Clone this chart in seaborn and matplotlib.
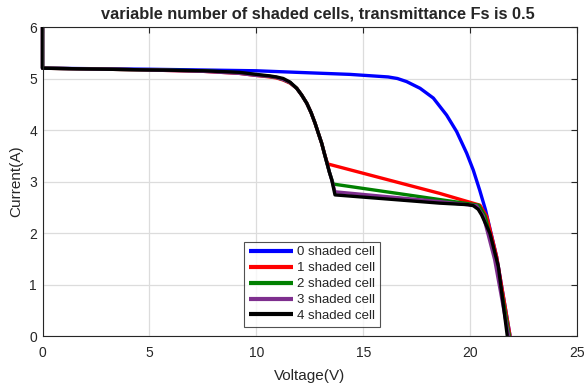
import numpy as np
import pandas as pd
import matplotlib
matplotlib.use("Agg")
import matplotlib.pyplot as plt
import seaborn as sns

# I-V characteristics of a PV module with 0..4 partially shaded cells (Fs = 0.5)
labels = ["0 shaded cell", "1 shaded cell", "2 shaded cell", "3 shaded cell", "4 shaded cell"]
colors = ["#0000ff", "#ff0000", "#008000", "#7e2f8e", "#000000"]

v0 = [0.0, 0.0, 5.0, 10.0, 14.38, 16.17, 16.6, 17.03, 17.66, 18.28, 18.9, 19.37, 19.84,
      20.15, 20.45, 20.72, 21.24, 21.87]
i0 = [6.0, 5.2, 5.18, 5.15, 5.08, 5.03, 5.0, 4.94, 4.81, 4.62, 4.29, 3.97, 3.55,
      3.22, 2.83, 2.45, 1.54, 0.0]

# shaded cases share the bypass-diode knee around 10-13.6 V
v1 = [0.0, 0.0, 4.5, 7.5, 9.2, 10.0, 10.64, 10.95, 11.26, 11.58, 11.89, 12.12, 12.36,
      12.56, 12.75, 12.9, 13.06, 13.18, 13.29, 13.35, 18.57, 20.46, 20.78, 21.24, 21.87]
i1 = [6.0, 5.2, 5.17, 5.14, 5.1, 5.06, 5.03, 5.01, 4.97, 4.91, 4.81, 4.68, 4.52,
      4.34, 4.13, 3.94, 3.74, 3.55, 3.4, 3.34, 2.77, 2.54, 2.32, 1.54, 0.0]

v2 = [0.0, 0.0, 4.5, 7.5, 9.2, 10.0, 10.64, 10.95, 11.26, 11.58, 11.89, 12.12, 12.36,
      12.56, 12.75, 12.9, 13.06, 13.18, 13.29, 13.42, 13.6, 18.57, 20.4, 20.7, 21.2, 21.84]
i2 = [6.0, 5.2, 5.17, 5.15, 5.11, 5.07, 5.04, 5.02, 4.98, 4.92, 4.81, 4.68, 4.52,
      4.34, 4.13, 3.94, 3.74, 3.55, 3.38, 3.18, 2.95, 2.65, 2.54, 2.33, 1.5, 0.0]

v3 = [0.0, 0.0, 4.5, 7.5, 9.2, 10.0, 10.64, 10.95, 11.26, 11.58, 11.89, 12.12, 12.36,
      12.56, 12.75, 12.9, 13.06, 13.18, 13.29, 13.42, 13.53, 13.68, 18.57, 20.3, 20.62,
      21.15, 21.8]
i3 = [6.0, 5.2, 5.17, 5.14, 5.1, 5.06, 5.04, 5.02, 4.98, 4.92, 4.81, 4.68, 4.52,
      4.34, 4.13, 3.94, 3.74, 3.55, 3.38, 3.18, 3.03, 2.8, 2.61, 2.53, 2.33,
      1.48, 0.0]

v4 = [0.0, 0.0, 4.5, 7.5, 9.2, 10.0, 10.64, 10.95, 11.26, 11.58, 11.89, 12.12, 12.36,
      12.56, 12.75, 12.9, 13.06, 13.18, 13.29, 13.42, 13.53, 13.68, 18.57, 19.9, 20.15,
      20.38, 20.54, 20.93, 21.32, 21.74]
i4 = [6.0, 5.2, 5.17, 5.15, 5.12, 5.08, 5.05, 5.03, 5.0, 4.93, 4.81, 4.68, 4.52,
      4.34, 4.13, 3.94, 3.74, 3.55, 3.38, 3.18, 3.03, 2.74, 2.58, 2.55, 2.53,
      2.46, 2.35, 1.99, 1.35, 0.0]

curves = [(v0, i0), (v1, i1), (v2, i2), (v3, i3), (v4, i4)]

frames = []
for lab, (v, i) in zip(labels, curves):
    frames.append(pd.DataFrame({"Voltage": v, "Current": i, "Case": lab}))
df = pd.concat(frames, ignore_index=True)

sns.set_style("white")
plt.rcParams["font.family"] = ["Liberation Sans", "DejaVu Sans"]

fig = plt.figure(figsize=(5.84, 3.83), dpi=100)
ax = fig.add_axes([0.0728, 0.1227, 0.9152, 0.8068])

sns.lineplot(data=df, x="Voltage", y="Current", hue="Case", hue_order=labels,
             palette=colors, sort=False, estimator=None, linewidth=2.4,
             solid_joinstyle="round", solid_capstyle="butt",
             clip_on=False, ax=ax)

ax.set_xlim(0, 25)
ax.set_ylim(0, 6)
ax.set_xticks([0, 5, 10, 15, 20, 25])
ax.set_yticks([0, 1, 2, 3, 4, 5, 6])
ax.grid(True, color="#dcdcdc", linewidth=0.9)
ax.set_axisbelow(True)
for s in ax.spines.values():
    s.set_color("#262626")
    s.set_linewidth(0.8)
    s.set_visible(True)
ax.tick_params(direction="in", length=4, width=0.8, top=True, right=True,
               labelsize=10, colors="#262626")
ax.tick_params(axis="x", pad=7.5)
ax.tick_params(axis="y", pad=4)

ax.set_xlabel("Voltage(V)", fontsize=11, color="#262626", labelpad=6)
ax.set_ylabel("Current(A)", fontsize=11, color="#262626", labelpad=4)
ax.set_title("variable number of shaded cells, transmittance Fs is 0.5",
             fontsize=11.8, fontweight="bold", pad=6, x=0.516)

leg = ax.legend(loc="lower left", bbox_to_anchor=(0.377, 0.03), borderaxespad=0,
                fontsize=9.5, handlelength=3.4, handletextpad=0.3,
                labelspacing=0.28, borderpad=0.35, frameon=True, fancybox=False)
leg.get_frame().set_edgecolor("#262626")
leg.get_frame().set_linewidth(0.8)
for line in leg.get_lines():
    line.set_linewidth(3)

fig.savefig("out.png", dpi=100)
